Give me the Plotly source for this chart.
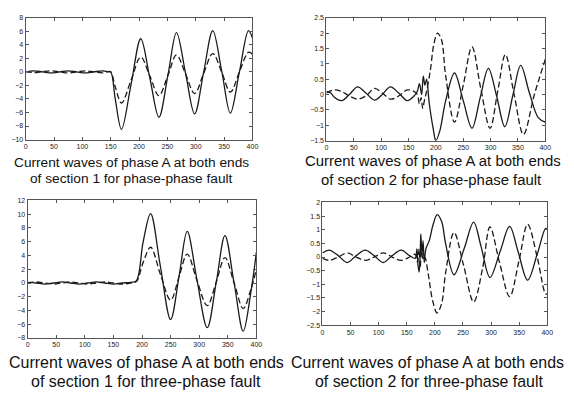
import plotly.graph_objects as go

W, H = 574, 398

# ---------------- data ----------------
# Panel 1: section 1, phase-phase fault
p1_x = [0, 15, 30, 45, 60, 75, 90, 105, 120, 135, 145, 150, 158, 169, 186, 203, 219, 235, 251,
        266, 282, 298, 314, 330, 346, 361, 377, 393, 400]
p1_solid = [0.0, 0.15, 0.0, -0.15, 0.0, 0.15, 0.0, -0.15, 0.0, 0.15, 0.05, 0.0, -4.0, -8.5, -1.8,
            4.9, -0.9, -6.7, -0.45, 5.8, -0.2, -6.2, 0.0, 6.1, 0.0, -6.1, 0.0, 6.1, 5.0]
p1_dash = [0.05, -0.1, 0.05, 0.15, 0.0, -0.15, 0.0, 0.15, 0.0, -0.15, 0.0, 0.0, -2.2, -4.6, -1.2,
           2.2, -0.6, -3.5, -0.5, 2.5, -0.3, -3.2, -0.2, 2.7, -0.1, -3.0, 0.0, 2.9, 2.6]

# Panel 2: section 2, phase-phase fault
p2_x_s = [0, 8, 15, 28, 42, 57, 72, 88, 102, 117, 132, 148, 160, 166, 170, 174, 177, 180, 183,
          188, 195, 200, 207, 218, 234, 250, 266, 281, 296, 311, 326, 341, 355, 371, 387, 400]
p2_solid = [0.1, 0.05, -0.1, -0.2, 0.0, 0.25, 0.05, -0.18, 0.0, 0.25, 0.05, -0.2, -0.05, 0.1,
            0.35, 0.0, 0.6, 0.3, 0.5, -0.3, -1.1, -1.5, -1.2, -0.2, 0.7, -0.2, -1.1, -0.1, 0.85,
            -0.05, -1.05, 0.0, 0.95, 0.05, -0.75, -0.9]
p2_x_d = [0, 15, 28, 42, 57, 72, 88, 102, 117, 132, 148, 160, 166, 170, 173, 176, 179, 183,
          190, 196, 203, 210, 218, 234, 250, 266, 282, 299, 313, 327, 343, 360, 380, 400]
p2_dash = [0.05, 0.15, 0.1, -0.05, -0.15, -0.05, 0.2, 0.05, -0.15, -0.05, 0.15, 0.1, 0.0, -0.3,
           -0.1, -0.45, -0.2, 0.1, 0.8, 1.6, 2.0, 1.8, 0.6, -0.9, 0.3, 1.55, 0.2, -1.1, 0.1, 1.3,
           0.0, -1.3, 0.0, 1.15]

# Panel 3: section 1, three-phase fault
p3_x = [0, 15, 30, 45, 60, 75, 90, 105, 120, 135, 150, 165, 180, 190, 202, 215, 232, 250, 265,
        279, 296, 314, 330, 345, 361, 377, 390, 400]
p3_solid = [0.1, 0.0, -0.15, 0.0, 0.15, 0.0, -0.15, 0.0, 0.15, 0.0, -0.15, 0.0, 0.1, 0.3, 6.0,
            10.1, 2.5, -5.3, 1.1, 7.5, 0.5, -6.5, 0.2, 6.9, 0.0, -7.0, -1.5, 4.5]
p3_dash = [0.0, 0.15, 0.0, -0.15, 0.0, 0.15, 0.0, -0.15, 0.0, 0.15, 0.0, -0.15, 0.0, 0.2, 3.0,
           5.2, 1.3, -2.5, 1.0, 4.2, 0.4, -3.3, 0.2, 3.7, 0.0, -3.7, -1.0, 2.0]

# Panel 4: section 2, three-phase fault
p4_x_s = [0, 12, 28, 44, 60, 76, 92, 108, 124, 140, 155, 165, 168, 170, 172, 174, 175, 177, 179,
          181, 184, 190, 197, 204, 212, 219, 234, 252, 269, 282, 298, 316, 333, 348, 365, 382,
          397, 400]
p4_solid = [0.15, 0.25, 0.05, -0.2, 0.05, 0.25, 0.05, -0.2, 0.05, 0.25, 0.05, -0.05, 0.3, -0.3,
            -0.55, 0.2, 0.85, 0.1, 0.6, -0.2, 0.3, 0.6, 1.2, 1.55, 1.3, 0.5, -0.65, 0.3, 1.28,
            0.4, -0.75, 0.2, 1.12, 0.2, -0.85, 0.1, 1.05, 1.0]
p4_x_d = [0, 12, 28, 44, 60, 76, 92, 108, 124, 140, 155, 165, 169, 172, 174, 176, 179, 182, 188,
          196, 204, 212, 219, 234, 251, 269, 285, 298, 315, 333, 350, 365, 382, 397, 400]
p4_dash = [-0.05, -0.12, 0.0, 0.15, 0.0, -0.12, 0.0, 0.15, 0.0, -0.12, 0.0, 0.1, -0.2, 0.3, -0.4,
           0.4, -0.1, 0.0, -0.6, -1.6, -2.05, -1.7, -0.6, 0.9, -0.3, -1.65, -0.4, 1.1, -0.2,
           -1.45, -0.1, 1.2, 0.0, -1.35, -1.35]

x_ticks = [0, 50, 100, 150, 200, 250, 300, 350, 400]
y1_ticks = [-10, -8, -6, -4, -2, 0, 2, 4, 6, 8]
y2_ticks = [-1.5, -1, -0.5, 0, 0.5, 1, 1.5, 2, 2.5]
y3_ticks = [-8, -6, -4, -2, 0, 2, 4, 6, 8, 10, 12]
y4_ticks = [-2.5, -2, -1.5, -1, -0.5, 0, 0.5, 1, 1.5, 2]

captions = [
    ("Current waves of phase A at both ends", "of section 1 for phase-phase fault"),
    ("Current waves of phase A at both ends", "of section 2 for phase-phase fault"),
    ("Current waves of phase A at both ends", "of section 1 for three-phase fault"),
    ("Current waves of phase A at both ends", "of section 2 for three-phase fault"),
]

# ---------------- layout helpers ----------------
def px_dom_x(a, b):
    return [a / W, b / W]

def px_dom_y(top, bottom):
    return [1 - bottom / H, 1 - top / H]

boxes = [  # left, right, top, bottom (pixels)
    (24, 254, 14, 138),
    (329, 551, 14, 139),
    (26, 258, 200, 340),
    (325, 553, 202, 327),
]
yranges = [(-10, 8), (-1.5, 2.5), (-8, 12), (-2.5, 2)]
yticks = [y1_ticks, y2_ticks, y3_ticks, y4_ticks]

series = [
    (p1_x, p1_solid, p1_x, p1_dash),
    (p2_x_s, p2_solid, p2_x_d, p2_dash),
    (p3_x, p3_solid, p3_x, p3_dash),
    (p4_x_s, p4_solid, p4_x_d, p4_dash),
]

fig = go.Figure()
layout = dict(
    width=W, height=H, margin=dict(l=0, r=0, t=0, b=0),
    paper_bgcolor="white", plot_bgcolor="white", showlegend=False,
    font=dict(family="Liberation Sans, Arial, sans-serif", color="#111"),
)

axis_common = dict(
    showline=True, linecolor="#555", linewidth=1, mirror="ticks",
    ticks="inside", ticklen=3, tickcolor="#555", showgrid=False, zeroline=False,
    tickfont=dict(size=7, color="#222", family="Liberation Sans, Arial, sans-serif"),
)

for i, (box, yr, yt, ser) in enumerate(zip(boxes, yranges, yticks, series)):
    n = "" if i == 0 else str(i + 1)
    l, r, t, b = box
    layout["xaxis" + n] = dict(axis_common, domain=px_dom_x(l, r), range=[0, 400],
                               tickvals=x_ticks, anchor="y" + n)
    layout["yaxis" + n] = dict(axis_common, domain=px_dom_y(t, b), range=list(yr),
                               tickvals=yt, anchor="x" + n)
    xs, ys, xd, yd = ser
    fig.add_trace(go.Scatter(x=xs, y=ys, mode="lines", xaxis="x" + n, yaxis="y" + n,
                             line=dict(color="#1a1a1a", width=1.3, shape="spline", smoothing=1.0)))
    fig.add_trace(go.Scatter(x=xd, y=yd, mode="lines", xaxis="x" + n, yaxis="y" + n,
                             line=dict(color="#1a1a1a", width=1.3, dash="6px,3px",
                                       shape="spline", smoothing=1.0)))

# caption positions (pixel centers) and sizes
cap_pos = [
    ((131.5, 161), (131, 178), 13.7),
    ((437, 160), (436, 179), 14.9),
    ((147, 365), (146, 384), 16),
    ((432, 365), (433, 384), 15.9),
]
annotations = []
for (l1, l2), ((x1, y1), (x2, y2), fs) in zip(captions, cap_pos):
    for txt, (cx, cy) in ((l1, (x1, y1)), (l2, (x2, y2))):
        annotations.append(dict(text=txt, x=cx / W, y=1 - cy / H, xref="paper", yref="paper",
                                xanchor="center", yanchor="middle", showarrow=False,
                                font=dict(size=fs, color="#111",
                                          family="Liberation Sans, Arial, sans-serif")))
layout["annotations"] = annotations
fig.update_layout(**layout)
fig.write_html("out.html", config={"displayModeBar": False},
               post_script="document.body.style.margin='0';document.body.style.overflow='hidden';")
